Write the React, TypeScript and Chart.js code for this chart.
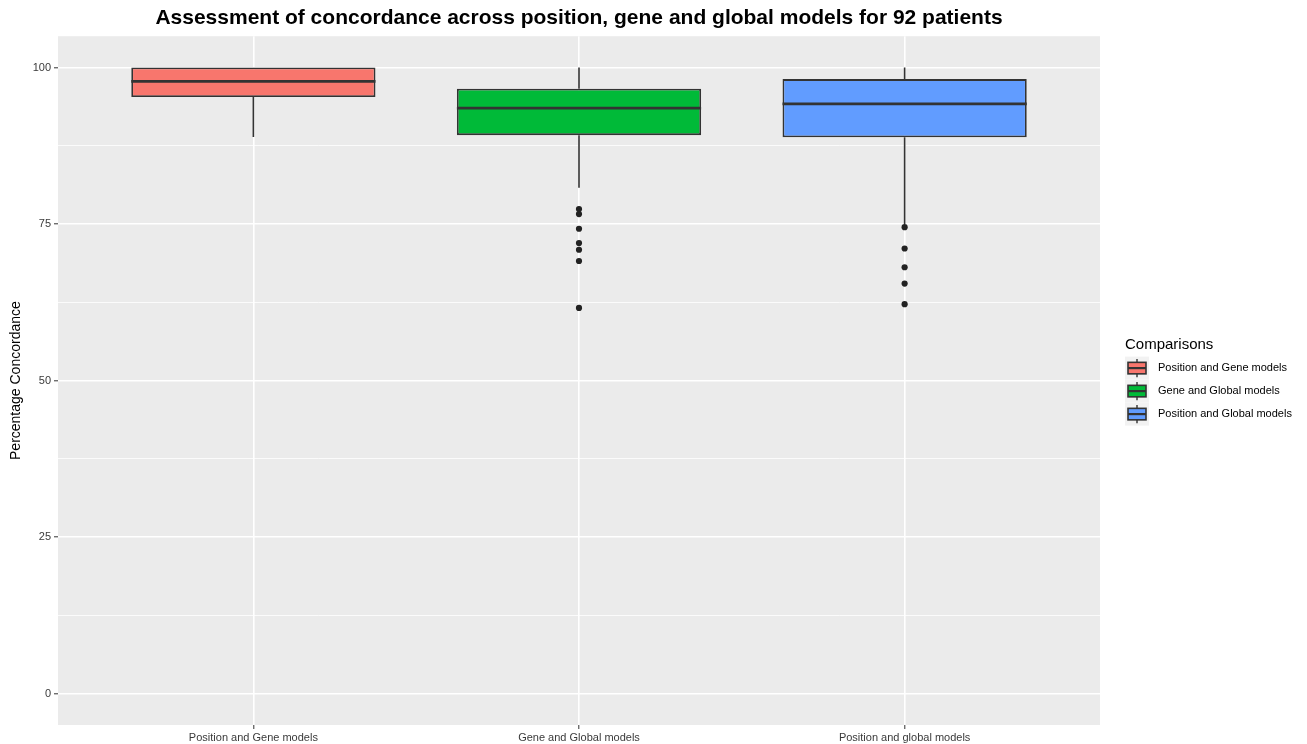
import React, { useEffect, useRef } from 'react';
import { Chart, registerables } from 'chart.js';

Chart.register(...registerables);

// Group labels on the x axis and in the legend
const axisLabels = ['Position and Gene models', 'Gene and Global models', 'Position and global models'];
const legendLabels = ['Position and Gene models', 'Gene and Global models', 'Position and Global models'];
const groupPositions = [1, 2, 3];

// Five-number summaries per comparison (percentage concordance)
const lowerWhisker = [88.9, 80.8, 75.0];
const lowerQuartile = [95.3, 89.2, 88.85];
const medians = [97.8, 93.5, 94.2];
const upperQuartile = [100, 96.6, 98.15];
const upperWhisker = [100, 100, 100];

// Points beyond 1.5 * IQR
const outliers: number[][] = [
  [],
  [77.4, 76.6, 74.25, 71.96, 70.9, 69.1, 61.6],
  [74.5, 71.1, 68.1, 65.5, 62.2],
];

const yMajorTicks = [0, 25, 50, 75, 100];
const yMinorTicks = [12.5, 37.5, 62.5, 87.5];

const fills = ['#F8766D', '#00BA38', '#619CFF'];
const outline = '#333333';
const BOX_WIDTH = 0.75;
const FONT = '"Liberation Sans", Arial, Helvetica, sans-serif';

const panelBackground = {
  id: 'panelBackground',
  beforeDraw(chart: any) {
    const { ctx, chartArea } = chart;
    ctx.save();
    ctx.fillStyle = '#EBEBEB';
    ctx.fillRect(chartArea.left, chartArea.top, chartArea.right - chartArea.left, chartArea.bottom - chartArea.top);
    ctx.restore();
  },
};

// Legend with small boxplot keys, placed to the right of the panel
const boxLegend = {
  id: 'boxLegend',
  afterDraw(chart: any) {
    const { ctx, chartArea } = chart;
    const cy = (chartArea.top + chartArea.bottom) / 2;
    const x0 = chartArea.right + 25;
    const keyW = 24;
    const keyH = 23;
    const keysTop = cy - 24;
    ctx.save();
    ctx.textBaseline = 'middle';
    ctx.textAlign = 'left';
    ctx.fillStyle = '#000000';
    ctx.font = `15px ${FONT}`;
    ctx.fillText('Comparisons', x0, cy - 36);
    legendLabels.forEach((label, i) => {
      const ky = keysTop + i * keyH;
      ctx.fillStyle = '#F2F2F2';
      ctx.fillRect(x0, ky, keyW, keyH);
      ctx.strokeStyle = outline;
      ctx.lineWidth = 1.4;
      ctx.beginPath();
      ctx.moveTo(x0 + keyW / 2, ky + keyH * 0.1);
      ctx.lineTo(x0 + keyW / 2, ky + keyH * 0.9);
      ctx.stroke();
      const bx = x0 + keyW * 0.125;
      const bw = keyW * 0.75;
      const by = ky + keyH * 0.25;
      const bh = keyH * 0.5;
      ctx.fillStyle = fills[i];
      ctx.fillRect(bx, by, bw, bh);
      ctx.lineWidth = 1.6;
      ctx.strokeRect(bx, by, bw, bh);
      ctx.lineWidth = 2.2;
      ctx.beginPath();
      ctx.moveTo(bx, ky + keyH / 2);
      ctx.lineTo(bx + bw, ky + keyH / 2);
      ctx.stroke();
      ctx.fillStyle = '#000000';
      ctx.font = `11px ${FONT}`;
      ctx.fillText(label, x0 + keyW + 9, ky + keyH / 2);
    });
    ctx.restore();
  },
};

export default function App() {
  const canvasRef = useRef<HTMLCanvasElement | null>(null);

  useEffect(() => {
    document.body.style.margin = '0';
    const canvas = canvasRef.current;
    if (!canvas) return;

    const whiskerPoints: any[] = [];
    groupPositions.forEach((x, i) => {
      whiskerPoints.push({ x, y: lowerWhisker[i] }, { x, y: lowerQuartile[i] }, { x, y: null });
      whiskerPoints.push({ x, y: upperQuartile[i] }, { x, y: upperWhisker[i] }, { x, y: null });
    });

    const medianPoints: any[] = [];
    groupPositions.forEach((x, i) => {
      medianPoints.push(
        { x: x - BOX_WIDTH / 2, y: medians[i] },
        { x: x + BOX_WIDTH / 2, y: medians[i] },
        { x, y: null }
      );
    });

    const outlierPoints: any[] = [];
    outliers.forEach((vals, i) => vals.forEach((y) => outlierPoints.push({ x: groupPositions[i], y })));

    const allYTicks = [...yMajorTicks, ...yMinorTicks].sort((a, b) => a - b);
    const isMajor = (v: number) => yMajorTicks.includes(v);

    const chart = new Chart(canvas, {
      type: 'bar',
      data: {
        datasets: [
          {
            type: 'bar',
            label: 'boxes',
            data: groupPositions.map((x, i) => ({ x, y: [lowerQuartile[i], upperQuartile[i]] })) as any,
            backgroundColor: fills,
            borderColor: outline,
            borderWidth: 1.8,
            borderSkipped: false,
            barPercentage: BOX_WIDTH,
            categoryPercentage: 1,
            order: 2,
          } as any,
          {
            type: 'line',
            label: 'whiskers',
            data: whiskerPoints,
            borderColor: outline,
            borderWidth: 1.6,
            pointRadius: 0,
            spanGaps: false,
            order: 3,
          } as any,
          {
            type: 'line',
            label: 'medians',
            data: medianPoints,
            borderColor: outline,
            borderWidth: 2.8,
            pointRadius: 0,
            spanGaps: false,
            order: 1,
          } as any,
          {
            type: 'line',
            label: 'outliers',
            data: outlierPoints,
            showLine: false,
            pointRadius: 3.1,
            pointBackgroundColor: '#222222',
            pointBorderColor: '#222222',
            pointBorderWidth: 0,
            order: 0,
          } as any,
        ],
      },
      options: {
        responsive: false,
        animation: false,
        events: [],
        layout: { padding: { left: 0, right: 207, top: 0, bottom: 0 } },
        plugins: {
          legend: { display: false },
          tooltip: { enabled: false },
          title: {
            display: true,
            fullSize: false,
            text: 'Assessment of concordance across position, gene and global models for 92 patients',
            color: '#000000',
            font: { family: FONT, size: 21, weight: 'bold' },
            padding: { top: 6, bottom: 5 },
          },
        },
        scales: {
          x: {
            type: 'linear',
            min: 0.4,
            max: 3.6,
            offset: false,
            afterBuildTicks: (scale: any) => {
              scale.ticks = groupPositions.map((v) => ({ value: v }));
            },
            afterFit: (scale: any) => {
              scale.height = 19;
            },
            grid: {
              offset: false,
              color: '#FFFFFF',
              lineWidth: 1.6,
              drawTicks: true,
              tickLength: 4,
              tickColor: outline,
              tickWidth: 1,
            },
            border: { display: false },
            ticks: {
              autoSkip: false,
              maxRotation: 0,
              padding: 2,
              color: '#3A3A3A',
              font: { family: FONT, size: 11 },
              callback: (v: any) => {
                const idx = groupPositions.indexOf(Number(v));
                return idx >= 0 ? axisLabels[idx] : '';
              },
            },
          },
          y: {
            type: 'linear',
            min: -5,
            max: 105,
            afterBuildTicks: (scale: any) => {
              scale.ticks = allYTicks.map((v) => ({ value: v }));
            },
            afterFit: (scale: any) => {
              scale.width = 58;
            },
            grid: {
              color: '#FFFFFF',
              lineWidth: (c: any) => (isMajor(c.tick?.value) ? 1.6 : 0.8),
              drawTicks: true,
              tickLength: 4,
              tickWidth: 1,
              tickColor: (c: any) => (isMajor(c.tick?.value) ? outline : 'rgba(0,0,0,0)'),
            },
            border: { display: false },
            title: {
              display: true,
              text: 'Percentage Concordance',
              color: '#000000',
              font: { family: FONT, size: 14 },
              padding: { top: 8, bottom: 0 },
            },
            ticks: {
              autoSkip: false,
              padding: 3,
              color: '#3A3A3A',
              font: { family: FONT, size: 11 },
              callback: (v: any) => (isMajor(Number(v)) ? String(v) : ''),
            },
          },
        },
      },
      plugins: [panelBackground, boxLegend],
    });

    return () => chart.destroy();
  }, []);

  return (
    <div style={{ width: 1307, height: 744 }}>
      <canvas ref={canvasRef} width={1307} height={744} style={{ display: 'block' }} />
    </div>
  );
}
